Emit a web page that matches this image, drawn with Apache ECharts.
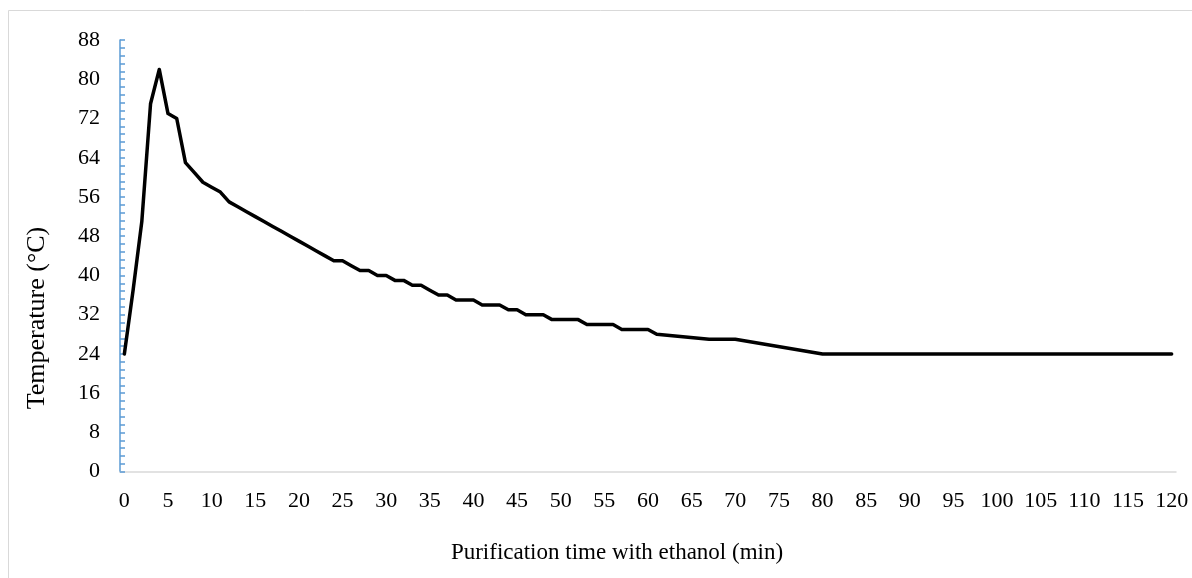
<!DOCTYPE html>
<html>
<head>
<meta charset="utf-8">
<script src="https://cdn.jsdelivr.net/npm/echarts@6/dist/echarts.min.js"></script>
<style>
html,body{margin:0;padding:0;background:#fff;}
#chart{width:1192px;height:578px;}
</style>
</head>
<body>
<div id="chart"></div>
<script>
// Purification time (min), one category per minute
var minutes = [];
for (var m = 0; m <= 120; m++) { minutes.push(String(m)); }

// Temperature (°C); null = no reading (line connects across)
var temperature = [
  24, 37, 51, 75, 82, 73, 72, 63, 61, 59,
  58, 57, 55, 54, 53, 52, 51, 50, 49, 48,
  47, 46, 45, 44, 43, 43, 42, 41, 41, 40,
  40, 39, 39, 38, 38, 37, 36, 36, 35, 35,
  35, 34, 34, 34, 33, 33, 32, 32, 32, 31,
  31, 31, 31, 30, 30, 30, 30, 29, 29, 29,
  29, 28, null, null, null, null, null, 27, 27, 27,
  27, null, null, null, null, null, null, null, null, null,
  24, 24, 24, 24, 24, 24, 24, 24, 24, 24,
  24, 24, 24, 24, 24, 24, 24, 24, 24, 24,
  24, 24, 24, 24, 24, 24, 24, 24, 24, 24,
  24, 24, 24, 24, 24, 24, 24, 24, 24, 24,
  24
];

var xTitle = 'Purification time with ethanol (min)';
var yTitle = 'Temperature (°C)';

var serif = '"Liberation Serif", "Times New Roman", serif';
var chart = echarts.init(document.getElementById('chart'));
chart.setOption({
  backgroundColor: '#fff',
  animation: false,
  grid: { left: 120, right: 16, top: 40, bottom: 106.3, containLabel: false },
  xAxis: {
    type: 'category',
    data: minutes,
    boundaryGap: true,
    axisLine: { show: true, lineStyle: { color: '#d9d9d9', width: 1.5 } },
    axisTick: { show: false },
    axisLabel: {
      interval: 4,
      color: '#000',
      fontFamily: serif,
      fontSize: 22,
      margin: 19
    },
    splitLine: { show: false }
  },
  yAxis: {
    type: 'value',
    min: 0,
    max: 88,
    interval: 8,
    axisLine: { show: true, lineStyle: { color: '#5b9bd5', width: 1.5 } },
    axisTick: { show: true, inside: true, length: 5, lineStyle: { color: '#5b9bd5', width: 1.5 } },
    minorTick: { show: true, splitNumber: 5, length: 5, lineStyle: { color: '#5b9bd5', width: 1.5 } },
    axisLabel: { color: '#000', fontFamily: serif, fontSize: 22, margin: 20 },
    splitLine: { show: false }
  },
  series: [{
    type: 'line',
    data: temperature,
    connectNulls: true,
    showSymbol: false,
    symbol: 'none',
    lineStyle: { color: '#000', width: 3.5, join: 'round', cap: 'round' }
  }],
  graphic: [
    {
      type: 'rect',
      shape: { x: 8.5, y: 10.5, width: 1400, height: 800 },
      style: { fill: 'none', stroke: '#d9d9d9', lineWidth: 1 },
      silent: true
    },
    {
      type: 'text',
      x: 617, y: 553,
      style: { text: xTitle, font: '23px ' + serif, fill: '#000', align: 'center', verticalAlign: 'middle' }
    },
    {
      type: 'text',
      x: 37, y: 318,
      rotation: Math.PI / 2,
      style: { text: yTitle, font: '26px ' + serif, fill: '#000', align: 'center', verticalAlign: 'middle' }
    }
  ]
});
</script>
</body>
</html>
